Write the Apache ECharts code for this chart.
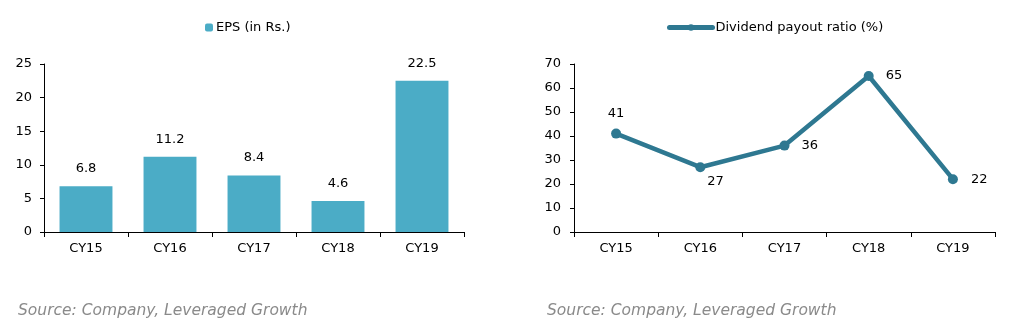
<!DOCTYPE html>
<html><head><meta charset="utf-8">
<script src="https://cdn.jsdelivr.net/npm/echarts@6/dist/echarts.min.js"></script>
<style>html,body{margin:0;padding:0;background:#fff}#c{width:1017px;height:334px}</style>
</head><body><div id="c"></div>
<script>
const categories = ['CY15','CY16','CY17','CY18','CY19'];
const epsValues = [6.8, 11.2, 8.4, 4.6, 22.5];
const payoutValues = [41, 27, 36, 65, 22];
const epsTicks = [0, 5, 10, 15, 20, 25];
const payoutTicks = [0, 10, 20, 30, 40, 50, 60, 70];
const epsName = 'EPS (in Rs.)';
const payoutName = 'Dividend payout ratio (%)';
const sourceText = 'Source: Company, Leveraged Growth';

const FONT = 'DejaVu Sans';
const LINE_COLOR = '#2E7891';
const chart = echarts.init(document.getElementById('c'), null, {renderer:'canvas'});
const axisLine = {show:true, lineStyle:{color:'#000', width:1}};
const xAxisCommon = {
  type:'category', data:categories, boundaryGap:true,
  axisLine: axisLine,
  axisTick:{show:true, alignWithLabel:false, length:5, lineStyle:{color:'#000'}},
  axisLabel:{color:'#000', fontSize:13, fontFamily:FONT, margin:10}
};
const yAxisCommon = {
  type:'value', min:0,
  axisLine: axisLine,
  axisTick:{show:true, length:4, lineStyle:{color:'#000'}},
  splitLine:{show:false},
  axisLabel:{color:'#000', fontSize:13, fontFamily:FONT}
};
chart.setOption({
  animation:false,
  textStyle:{fontFamily:FONT},
  legend:[
    {data:[epsName], left:205, top:21, padding:0, itemWidth:8, itemHeight:8, itemGap:4,
     textStyle:{color:'#000', fontSize:13, fontFamily:FONT, padding:[0,0,0,-2]}},
    {data:[payoutName], left:667, top:21, padding:0, itemWidth:43, itemHeight:8, itemGap:4,
     lineStyle:{width:5, cap:'round'},
     textStyle:{color:'#000', fontSize:13, fontFamily:FONT, padding:[0,0,0,-2]}}
  ],
  grid:[
    {left:44, right:553, top:64, bottom:102},
    {left:574, right:22, top:64, bottom:102}
  ],
  xAxis:[
    Object.assign({gridIndex:0}, xAxisCommon),
    Object.assign({gridIndex:1}, xAxisCommon)
  ],
  yAxis:[
    Object.assign({gridIndex:0, max:epsTicks[epsTicks.length-1], interval:5}, yAxisCommon,
      {axisLabel:Object.assign({}, yAxisCommon.axisLabel, {margin:12})}),
    Object.assign({gridIndex:1, max:payoutTicks[payoutTicks.length-1], interval:10}, yAxisCommon,
      {axisLabel:Object.assign({}, yAxisCommon.axisLabel, {margin:13})})
  ],
  series:[
    {name:epsName, type:'bar', xAxisIndex:0, yAxisIndex:0, data:epsValues,
     barWidth:'63%', itemStyle:{color:'#4BACC6'},
     label:{show:true, position:'top', distance:11, color:'#000', fontSize:13, fontFamily:FONT}},
    {name:payoutName, type:'line', xAxisIndex:1, yAxisIndex:1,
     data:payoutValues.map((v,i)=>{
       const pos = [
         {position:'top', distance:8},
         {position:'right', offset:[-4,14], distance:6},
         {position:'right', distance:12},
         {position:'right', distance:12},
         {position:'right', distance:13}
       ][i];
       return {value:v, label:pos};
     }),
     symbol:'circle', symbolSize:10,
     lineStyle:{color:LINE_COLOR, width:4.5},
     itemStyle:{color:LINE_COLOR},
     label:{show:true, color:'#000', fontSize:13, fontFamily:FONT}}
  ],
  graphic:[
    {type:'text', left:18, top:303, style:{text:sourceText, fill:'#8a8a8a', fontSize:15.5, fontStyle:'italic', fontFamily:FONT}},
    {type:'text', left:547, top:303, style:{text:sourceText, fill:'#8a8a8a', fontSize:15.5, fontStyle:'italic', fontFamily:FONT}}
  ]
});
</script></body></html>
